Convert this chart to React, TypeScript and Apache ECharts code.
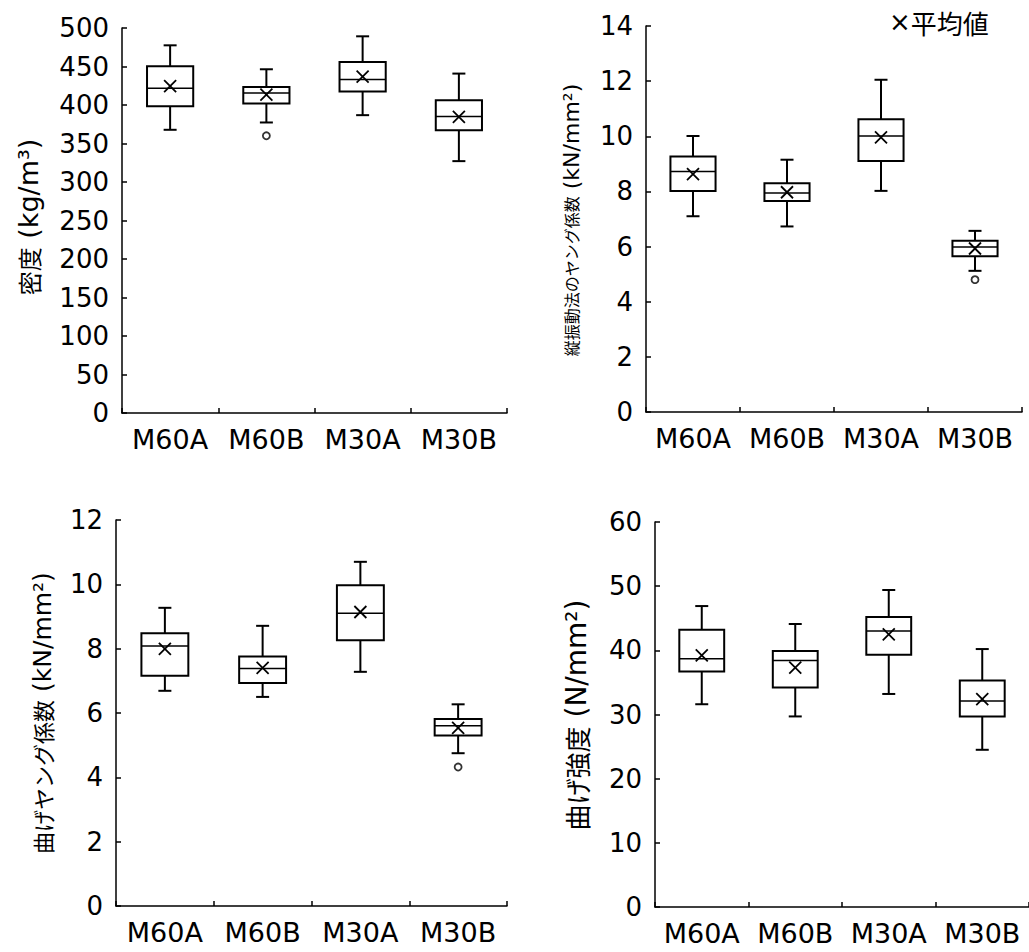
import React, { useEffect, useRef } from "react";
import * as echarts from "echarts";

const categories = ["M60A", "M60B", "M30A", "M30B"];

// [min, Q1, median, Q3, max]
const densityStats = [
  [367.8, 398.4, 421.8, 450.3, 477.5],
  [377.3, 401.9, 415.7, 423.5, 446.4],
  [386.8, 417.5, 433.0, 455.9, 489.2],
  [327.1, 367.3, 385.0, 406.2, 440.8],
];
const densityMean = [424.4, 413.6, 436.9, 384.5];
const densityOutliers = [[1, 360]];

const longYoungStats = [
  [7.1, 8.02, 8.72, 9.27, 10.01],
  [6.73, 7.65, 7.94, 8.3, 9.15],
  [8.02, 9.1, 10.01, 10.62, 12.05],
  [5.12, 5.65, 5.98, 6.21, 6.57],
];
const longYoungMean = [8.63, 7.97, 9.96, 5.93];
const longYoungOutliers = [[3, 4.8]];

const bendYoungStats = [
  [6.69, 7.16, 8.08, 8.48, 9.27],
  [6.5, 6.93, 7.38, 7.76, 8.71],
  [7.28, 8.26, 9.1, 9.97, 10.7],
  [4.75, 5.3, 5.6, 5.81, 6.27],
];
const bendYoungMean = [7.99, 7.4, 9.14, 5.54];
const bendYoungOutliers = [[3, 4.32]];

const strengthStats = [
  [31.6, 36.7, 38.7, 43.2, 46.9],
  [29.7, 34.2, 38.4, 39.9, 44.1],
  [33.2, 39.3, 43.0, 45.2, 49.4],
  [24.5, 29.7, 32.1, 35.3, 40.2],
];
const strengthMean = [39.2, 37.3, 42.5, 32.4];
const strengthOutliers: number[][] = [];

const yAxes = [
  { min: 0, max: 500, interval: 50 },
  { min: 0, max: 14, interval: 2 },
  { min: 0, max: 12, interval: 2 },
  { min: 0, max: 60, interval: 10 },
];

const FONT = "'DejaVu Sans', 'Noto Sans CJK JP', sans-serif";
const CJK = "'Noto Sans CJK JP', sans-serif";

function boxRows(stats: number[][], means: number[]) {
  return stats.map((s, i) => [i, ...s, means[i]]);
}

function yName(x: number, y: number, cjk: string, latin: string, cjkSize: number, latinSize: number) {
  return {
    type: "text",
    x,
    y,
    rotation: Math.PI / 2,
    style: {
      text: `{a|${cjk}}{b|\u00a0${latin}}`,
      fill: "#000",
      align: "center",
      verticalAlign: "middle",
      rich: {
        a: { fontFamily: CJK, fontSize: cjkSize, fill: "#000" },
        b: { fontFamily: FONT, fontSize: latinSize, fill: "#000" },
      },
    },
  };
}

export default function App() {
  const ref = useRef<HTMLDivElement>(null);
  useEffect(() => {
    if (!ref.current) return;
    const chart = echarts.init(ref.current, null, { renderer: "svg" });

    const grids = [
      { left: 122, top: 28, width: 385, height: 385 },
      { left: 646, top: 26, width: 376, height: 386 },
      { left: 116, top: 520, width: 391, height: 386 },
      { left: 655, top: 522, width: 377, height: 385 },
    ];

    const panels = [
      { stats: densityStats, mean: densityMean, out: densityOutliers },
      { stats: longYoungStats, mean: longYoungMean, out: longYoungOutliers },
      { stats: bendYoungStats, mean: bendYoungMean, out: bendYoungOutliers },
      { stats: strengthStats, mean: strengthMean, out: strengthOutliers },
    ];

    const renderItem = (params: any, api: any) => {
      const idx = api.value(0);
      const w = api.size([1, 0])[0] * 0.48;
      const cap = 13;
      const pMin = api.coord([idx, api.value(1)]);
      const pQ1 = api.coord([idx, api.value(2)]);
      const pMed = api.coord([idx, api.value(3)]);
      const pQ3 = api.coord([idx, api.value(4)]);
      const pMax = api.coord([idx, api.value(5)]);
      const pMean = api.coord([idx, api.value(6)]);
      const x = pMed[0];
      const ls = { stroke: "#000", lineWidth: 2 };
      const m = 6;
      return {
        type: "group",
        children: [
          { type: "line", shape: { x1: x, y1: pMax[1], x2: x, y2: pQ3[1] }, style: ls },
          { type: "line", shape: { x1: x, y1: pMin[1], x2: x, y2: pQ1[1] }, style: ls },
          { type: "line", shape: { x1: x - cap / 2, y1: pMax[1], x2: x + cap / 2, y2: pMax[1] }, style: ls },
          { type: "line", shape: { x1: x - cap / 2, y1: pMin[1], x2: x + cap / 2, y2: pMin[1] }, style: ls },
          {
            type: "rect",
            shape: { x: x - w / 2, y: pQ3[1], width: w, height: pQ1[1] - pQ3[1] },
            style: { fill: "#fff", stroke: "#000", lineWidth: 2 },
          },
          { type: "line", shape: { x1: x - w / 2, y1: pMed[1], x2: x + w / 2, y2: pMed[1] }, style: { stroke: "#000", lineWidth: 1.5 } },
          { type: "line", shape: { x1: x - m, y1: pMean[1] - m, x2: x + m, y2: pMean[1] + m }, style: { stroke: "#000", lineWidth: 1.8 } },
          { type: "line", shape: { x1: x - m, y1: pMean[1] + m, x2: x + m, y2: pMean[1] - m }, style: { stroke: "#000", lineWidth: 1.8 } },
        ],
      };
    };

    const axisLine = { show: true, lineStyle: { color: "#000", width: 1.5 } };

    const option: any = {
      animation: false,
      backgroundColor: "#fff",
      textStyle: { fontFamily: FONT },
      grid: grids.map((g) => ({ ...g, containLabel: false })),
      xAxis: grids.map((_, i) => ({
        type: "category",
        gridIndex: i,
        data: categories,
        boundaryGap: true,
        axisLine,
        axisTick: { show: true, inside: true, length: 5, lineStyle: { color: "#000", width: 1.5 } },
        axisLabel: { color: "#000", fontSize: 27, fontFamily: FONT, margin: 13, interval: 0 },
        splitLine: { show: false },
      })),
      yAxis: yAxes.map((y, i) => ({
        type: "value",
        gridIndex: i,
        min: y.min,
        max: y.max,
        interval: y.interval,
        axisLine,
        axisTick: { show: true, inside: true, length: 5, lineStyle: { color: "#000", width: 1.5 } },
        axisLabel: { color: "#000", fontSize: 26, fontFamily: FONT, margin: 13 },
        splitLine: { show: false },
      })),
      series: [
        ...panels.map((p, i) => ({
          type: "custom",
          xAxisIndex: i,
          yAxisIndex: i,
          data: boxRows(p.stats, p.mean),
          encode: { x: 0, y: [1, 2, 3, 4, 5, 6] },
          renderItem,
          clip: false,
          z: 2,
        })),
        ...panels.map((p, i) => ({
          type: "scatter",
          xAxisIndex: i,
          yAxisIndex: i,
          data: p.out,
          symbol: "circle",
          symbolSize: 7,
          itemStyle: { color: "#fff", borderColor: "#000", borderWidth: 1.8 },
          z: 3,
        })),
      ],
      graphic: [
        yName(28, 217, "密度", "(kg/m³)", 24, 27),
        yName(571, 220, "縦振動法のヤング係数", "(kN/mm²)", 16, 22),
        yName(42, 713, "曲げヤング係数", "(kN/mm²)", 22, 25),
        yName(576, 715, "曲げ強度", "(N/mm²)", 26, 28),
        {
          type: "text",
          x: 889,
          y: 22,
          style: {
            text: "{x|×}{a|平均値}",
            align: "left",
            verticalAlign: "middle",
            rich: {
              x: { fontFamily: FONT, fontSize: 26, fill: "#000" },
              a: { fontFamily: CJK, fontSize: 26, fill: "#000" },
            },
          },
        },
      ],
    };

    chart.setOption(option);
    return () => chart.dispose();
  }, []);

  return (
    <div
      ref={ref}
      style={{ position: "fixed", left: 0, top: 0, width: 1029, height: 952, background: "#fff" }}
    />
  );
}
